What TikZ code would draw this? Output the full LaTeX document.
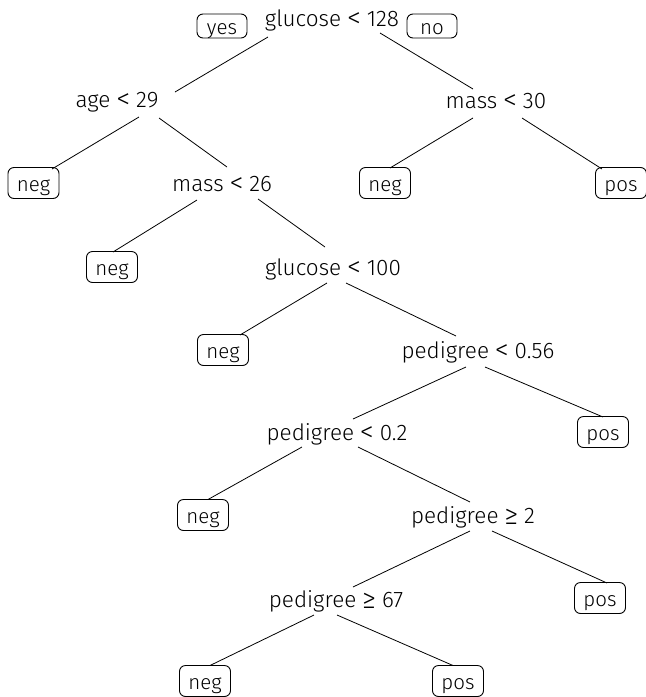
\documentclass[tikz,border=0pt]{standalone}
\usepackage{fontspec}
\usepackage{graphicx}
\setmainfont{Fira Sans}[UprightFont=* Light]
\usetikzlibrary{calc}
% relation sign, a little enlarged, with extra room on both sides
\newcommand\cmp[1]{\hspace{0.26em}\raisebox{-0.08em}{\scalebox{1.25}{#1}}\hspace{0.26em}}
\begin{document}
\begin{tikzpicture}[x=1pt,y=-1pt,
  split/.style={anchor=base,inner sep=0pt,font=\fontsize{22.5}{24}\selectfont},
  leaf/.style={draw,rounded corners=6pt,line width=0.9pt,minimum width=51pt,
    minimum height=31pt,inner sep=0pt,text height=17pt,text depth=0pt,
    font=\fontsize{20.5}{22}\selectfont},
  tag/.style={leaf,minimum width=50pt,minimum height=24pt,text height=16pt},
  edge/.style={line width=0.8pt}]
\useasboundingbox (0,0) rectangle (646,697);

% split labels
\node[split] (root)  at (332,26)  {glucose\cmp{<}128};
\node[split] (age)   at (117,107) {age\cmp{<}29};
\node[split] (m30)   at (496,108) {mass\cmp{<}30};
\node[split] (m26)   at (222,191) {mass\cmp{<}26};
\node[split] (g100)  at (333,275) {glucose\cmp{<}100};
\node[split] (p056)  at (478,358) {pedigree\cmp{<}0.56};
\node[split] (p02)   at (337,440) {pedigree\cmp{<}0.2};
\node[split] (p2)    at (473,523) {pedigree\cmp{≥}2};
\node[split] (p67)   at (336,607) {pedigree\cmp{≥}67};

% branch tags
\node[tag] (yes) at (222,26) {yes};
\node[tag] (no)  at (432,26) {no};

% leaves
\node[leaf] (n1) at (33.5,183) {neg};
\node[leaf] (n2) at (385,183)  {neg};
\node[leaf] (q1) at (621,183)  {pos};
\node[leaf] (n3) at (112,267)  {neg};
\node[leaf] (n4) at (223,350)  {neg};
\node[leaf] (q2) at (603,432)  {pos};
\node[leaf] (n5) at (203,515)  {neg};
\node[leaf] (q3) at (600,598)  {pos};
\node[leaf] (n6) at (205,681)  {neg};
\node[leaf] (q4) at (458,681)  {pos};

% branches
\draw[edge] ($(root.base)+(-64,11)$) -- ($(age.base)+(58,-15)$);
\draw[edge] ($(root.base)+(48,7)$)   -- ($(m30.base)+(-23,-19)$);
\draw[edge] ($(age.base)+(22,10)$)   -- ($(n1)+(18.5,-14)$);
\draw[edge] ($(age.base)+(42,11)$)   -- ($(m26.base)+(5,-24)$);
\draw[edge] ($(m30.base)+(-23,10)$)  -- ($(n2)+(5,-15)$);
\draw[edge] ($(m30.base)+(26,10)$)   -- ($(q1)+(-19,-14)$);
\draw[edge] ($(m26.base)+(-25,9)$)   -- ($(n3)+(1,-15)$);
\draw[edge] ($(m26.base)+(36,8)$)    -- ($(g100.base)+(-8,-28)$);
\draw[edge] ($(g100.base)+(-6,8)$)   -- ($(n4)+(17,-15)$);
\draw[edge] ($(g100.base)+(13,8)$)   -- ($(p056.base)+(-22,-22)$);
\draw[edge] ($(p056.base)+(-12,9)$)  -- ($(p02.base)+(16,-21)$);
\draw[edge] ($(p056.base)+(7,9)$)    -- ($(q2)+(0,-15)$);
\draw[edge] ($(p02.base)+(-35,7)$)   -- ($(n5)+(5,-15.5)$);
\draw[edge] ($(p02.base)+(21,7)$)    -- ($(p2.base)+(-3,-21)$);
\draw[edge] ($(p2.base)+(-3,8)$)     -- ($(p67.base)+(17,-20)$);
\draw[edge] ($(p2.base)+(19,8)$)     -- ($(q3)+(7,-15)$);
\draw[edge] ($(p67.base)+(-22,8)$)   -- ($(n6)+(5,-15.5)$);
\draw[edge] ($(p67.base)+(1,8)$)     -- ($(q4)+(-5,-15.5)$);
\end{tikzpicture}
\end{document}
